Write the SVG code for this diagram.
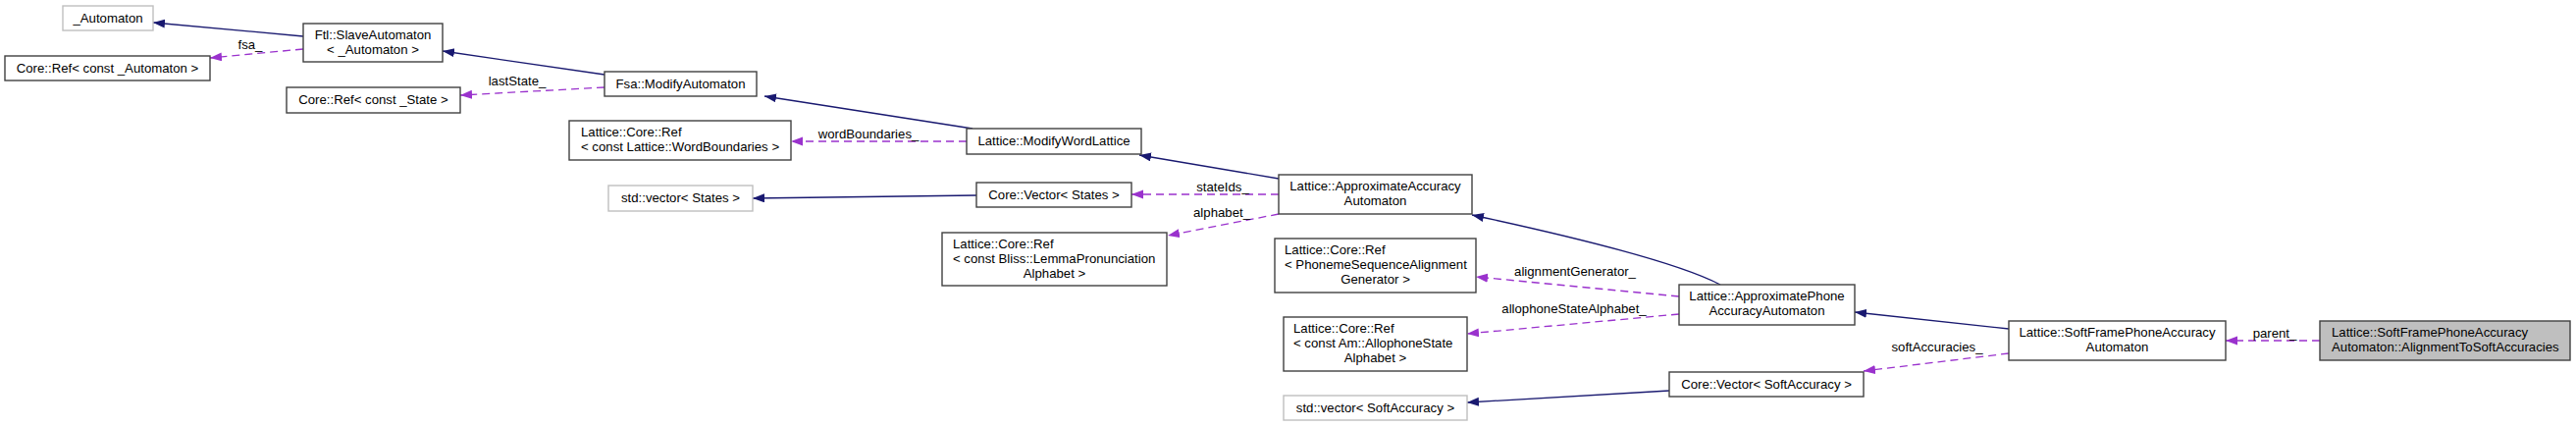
<svg xmlns="http://www.w3.org/2000/svg" width="2625" height="435" viewBox="0 0 2625 435">
<defs>
<style>
text{font-family:"Liberation Sans",Arial,sans-serif;font-size:13.2px;fill:#000}
.c{text-anchor:middle}
.box{fill:#fff;stroke:#404040;stroke-width:1.4}
.gbox{fill:#fff;stroke:#bfbfbf;stroke-width:1.4}
.main{fill:#bfbfbf;stroke:#404040;stroke-width:1.4}
.inh{fill:none;stroke:#191970;stroke-width:1.3;marker-end:url(#ah)}
.col{fill:none;stroke:#9a32cd;stroke-width:1.3;stroke-dasharray:8,5;marker-end:url(#ap)}
</style>
<marker id="ah" markerUnits="userSpaceOnUse" markerWidth="13" markerHeight="10" refX="12" refY="4.5" orient="auto"><path d="M0,0 L12,4.5 L0,9 z" fill="#191970"/></marker>
<marker id="ap" markerUnits="userSpaceOnUse" markerWidth="13" markerHeight="10" refX="12" refY="4.5" orient="auto"><path d="M0,0 L12,4.5 L0,9 z" fill="#9a32cd"/></marker>
</defs>
<rect width="2625" height="435" fill="#fff"/>
<g id="connectors">
<path class="inh" d="M309,37 L156,23"/>
<path class="inh" d="M616,76 L451,52"/>
<path class="inh" d="M991,131 L779,98"/>
<path class="inh" d="M1303,182 L1161,158"/>
<path class="inh" d="M995,199 L767,202"/>
<path class="inh" d="M1753,290 Q1700,262 1500,219"/>
<path class="inh" d="M2047,335 L1890,318"/>
<path class="inh" d="M1701,398 L1495,410"/>
<path class="col" d="M309,50 L214,59"/>
<text class="c" x="255" y="50">fsa_</text>
<path class="col" d="M616,89 L469,97"/>
<text class="c" x="527" y="87">lastState_</text>
<path class="col" d="M985,144 L806,144"/>
<text class="c" x="885" y="141">wordBoundaries_</text>
<path class="col" d="M1303,198 L1153,198"/>
<text class="c" x="1246" y="195">stateIds_</text>
<path class="col" d="M1303,218 L1190,240"/>
<text class="c" x="1245" y="221">alphabet_</text>
<path class="col" d="M1711,302 L1504,282"/>
<text class="c" x="1605" y="281">alignmentGenerator_</text>
<path class="col" d="M1711,320 L1495,340"/>
<text class="c" x="1604" y="319">allophoneStateAlphabet_</text>
<path class="col" d="M2047,360 L1899,378"/>
<text class="c" x="1974" y="358">softAccuracies_</text>
<path class="col" d="M2364,347 L2268,347"/>
<text class="c" x="2318" y="344">parent_</text>
</g>
<g id="n_automaton"><rect class="gbox" x="64" y="6" width="92" height="25"/><text class="c" x="110" y="23">_Automaton</text></g>
<g id="n_slave"><rect class="box" x="309" y="24" width="142" height="39"/><text class="c" x="380" y="40">Ftl::SlaveAutomaton</text><text class="c" x="380" y="55">&lt; _Automaton &gt;</text></g>
<g id="n_refauto"><rect class="box" x="5" y="57" width="209" height="25"/><text class="c" x="109.5" y="74">Core::Ref&lt; const _Automaton &gt;</text></g>
<g id="n_modauto"><rect class="box" x="616" y="73" width="155" height="25"/><text class="c" x="693.5" y="90">Fsa::ModifyAutomaton</text></g>
<g id="n_refstate"><rect class="box" x="292" y="89" width="177" height="26"/><text class="c" x="380.5" y="106">Core::Ref&lt; const _State &gt;</text></g>
<g id="n_refwb"><rect class="box" x="580" y="123" width="226" height="40"/><text x="592" y="139">Lattice::Core::Ref</text><text x="592" y="154">&lt; const Lattice::WordBoundaries &gt;</text></g>
<g id="n_modwl"><rect class="box" x="985" y="131" width="178" height="26"/><text class="c" x="1074" y="148">Lattice::ModifyWordLattice</text></g>
<g id="n_stdvec"><rect class="gbox" x="620" y="189" width="147" height="26"/><text class="c" x="693.5" y="206">std::vector&lt; States &gt;</text></g>
<g id="n_corevec"><rect class="box" x="995" y="186" width="158" height="25"/><text class="c" x="1074" y="203">Core::Vector&lt; States &gt;</text></g>
<g id="n_refalpha"><rect class="box" x="960" y="237" width="229" height="54"/><text x="971" y="253">Lattice::Core::Ref</text><text x="971" y="268">&lt; const Bliss::LemmaPronunciation</text><text class="c" x="1074.5" y="283">Alphabet &gt;</text></g>
<g id="n_approx"><rect class="box" x="1303" y="178" width="197" height="40"/><text class="c" x="1401.5" y="194">Lattice::ApproximateAccuracy</text><text class="c" x="1401.5" y="209">Automaton</text></g>
<g id="n_refpsa"><rect class="box" x="1299" y="243" width="205" height="55"/><text x="1309" y="259">Lattice::Core::Ref</text><text x="1309" y="274">&lt; PhonemeSequenceAlignment</text><text class="c" x="1401.5" y="289">Generator &gt;</text></g>
<g id="n_refallo"><rect class="box" x="1308" y="323" width="187" height="55"/><text x="1318" y="339">Lattice::Core::Ref</text><text x="1318" y="354">&lt; const Am::AllophoneState</text><text class="c" x="1401.5" y="369">Alphabet &gt;</text></g>
<g id="n_approxphone"><rect class="box" x="1711" y="290" width="179" height="41"/><text class="c" x="1800.5" y="306">Lattice::ApproximatePhone</text><text class="c" x="1800.5" y="321">AccuracyAutomaton</text></g>
<g id="n_corevecsoft"><rect class="box" x="1701" y="379" width="198" height="25"/><text class="c" x="1800" y="396">Core::Vector&lt; SoftAccuracy &gt;</text></g>
<g id="n_stdvecsoft"><rect class="gbox" x="1308" y="403" width="187" height="25"/><text class="c" x="1401.5" y="420">std::vector&lt; SoftAccuracy &gt;</text></g>
<g id="n_softframe"><rect class="box" x="2047" y="327" width="221" height="40"/><text class="c" x="2157.5" y="343">Lattice::SoftFramePhoneAccuracy</text><text class="c" x="2157.5" y="358">Automaton</text></g>
<g id="n_main"><rect class="main" x="2364" y="327" width="255" height="40"/><text x="2376" y="343">Lattice::SoftFramePhoneAccuracy</text><text x="2376" y="358">Automaton::AlignmentToSoftAccuracies</text></g>
</svg>
